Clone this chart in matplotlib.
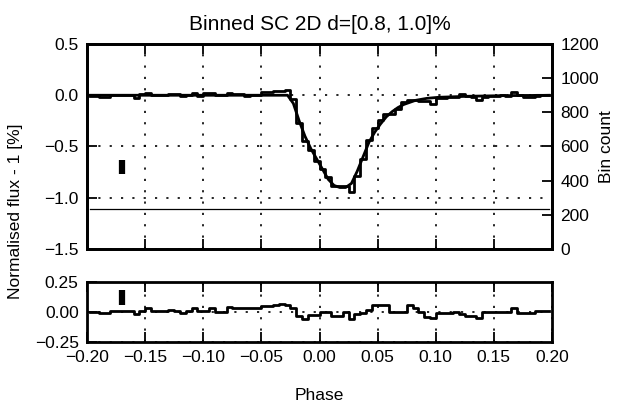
import numpy as np
import matplotlib
matplotlib.use('Agg')
import matplotlib.pyplot as plt

plt.rcParams['font.family'] = ['Liberation Sans', 'DejaVu Sans']
plt.rcParams['font.size'] = 12.5

# bin centres, 0.005 wide
phase = np.arange(-0.1975, 0.2, 0.005)

flux = [-0.01, -0.01, -0.02, -0.02, 0.0, 0.0, 0.0, 0.0, -0.03, 0.01,
        0.02, 0.0, 0.0, 0.0, 0.01, 0.01, -0.01, 0.0, 0.02, -0.01,
        0.025, 0.025, 0.0, 0.0, 0.025, 0.01, 0.01, -0.01, 0.0, 0.0,
        0.03, 0.03, 0.04, 0.04, 0.05, -0.04, -0.27, -0.45, -0.53, -0.64,
        -0.72, -0.80, -0.89, -0.89, -0.89, -0.94, -0.79, -0.62, -0.44, -0.32,
        -0.24, -0.18, -0.18, -0.13, -0.07, -0.05, -0.05, -0.06, -0.06, -0.09,
        -0.03, -0.03, -0.02, -0.02, 0.01, -0.01, -0.02, -0.05, -0.02, -0.01,
        -0.01, 0.0, -0.01, 0.03, 0.0, -0.02, -0.02, -0.01, 0.0, 0.0]

model = [0.0] * 35 + [
    -0.08, -0.25, -0.40, -0.52, -0.62,
    -0.72, -0.82, -0.88, -0.90, -0.90, -0.86, -0.74, -0.60, -0.46, -0.36,
    -0.28, -0.21, -0.16, -0.12, -0.09, -0.07, -0.05, -0.04, -0.03, -0.025,
    -0.02, -0.018, -0.016, -0.014, -0.012, -0.01, -0.009, -0.008, -0.007, -0.006,
    -0.005, -0.004, -0.004, -0.003, -0.003, -0.002, -0.002, -0.001, -0.001, 0.0]

resid = [0.0, 0.0, -0.01, -0.01, 0.01, 0.01, 0.01, 0.01, -0.02, 0.01,
         0.03, 0.005, 0.005, 0.005, 0.02, 0.005, -0.005, 0.01, 0.03, 0.01,
         0.01, 0.03, 0.0, 0.0, 0.04, 0.03, 0.03, 0.03, 0.035, 0.035,
         0.05, 0.05, 0.06, 0.065, 0.06, 0.03, -0.03, -0.06, -0.025, -0.025,
         0.0, 0.0, -0.03, -0.03, 0.0, -0.06, -0.02, -0.01, 0.02, 0.06,
         0.06, 0.06, 0.0, 0.0, 0.0, 0.06, 0.03, 0.0, -0.04, -0.05,
         -0.01, -0.01, -0.01, 0.0, -0.015, -0.03, -0.03, -0.05, 0.0, 0.0,
         0.0, 0.0, 0.0, 0.035, -0.005, -0.005, -0.01, 0.01, 0.01, 0.01]

counts = [236, 236, 235, 236, 236, 237, 236, 234, 234, 235,
          236, 237, 236, 236, 235, 234, 233, 233, 234, 235,
          236, 236, 235, 235, 236, 236, 237, 237, 236, 236,
          236, 237, 237, 236, 236, 235, 235, 236, 236, 237,
          236, 235, 235, 234, 234, 233, 232, 232, 233, 234,
          234, 235, 235, 236, 236, 236, 235, 235, 235, 234,
          234, 235, 236, 236, 236, 235, 235, 235, 236, 236,
          236, 235, 235, 236, 236, 236, 235, 234, 232, 232]

# typical error bars (x, centre, half-height)
err_x = -0.17
err_top = (-0.70, 0.065)
err_res = (0.12, 0.0625)

xticks = [-0.20, -0.15, -0.10, -0.05, 0.00, 0.05, 0.10, 0.15, 0.20]
dots = (0, (1.3, 5.5))

fig = plt.figure(figsize=(6.32, 4.07), dpi=100)
ax = fig.add_axes([0.1377, 0.3882, 0.7357, 0.5037])
axr = ax.twinx()
axb = fig.add_axes([0.1377, 0.1597, 0.7357, 0.1474])

ax.step(phase, flux, where='mid', color='k', lw=2)
ax.plot(phase, model, color='k', lw=2)
ax.plot([err_x, err_x], [err_top[0] - err_top[1], err_top[0] + err_top[1]],
        color='k', lw=4.5, solid_capstyle='butt')
axr.step(phase, counts, where='mid', color='k', lw=0.9)

ax.set_xlim(-0.2, 0.2)
ax.set_ylim(-1.5, 0.5)
ax.set_yticks([-1.5, -1.0, -0.5, 0.0, 0.5])
ax.set_xticks(xticks)
ax.set_xticklabels([])
axr.set_ylim(0, 1200)
axr.set_yticks(range(0, 1201, 200))
axr.set_ylabel('Bin count', labelpad=0)

axb.step(phase, resid, where='mid', color='k', lw=2)
axb.plot([err_x, err_x], [err_res[0] - err_res[1], err_res[0] + err_res[1]],
         color='k', lw=4.5, solid_capstyle='butt')
axb.set_xlim(-0.2, 0.2)
axb.set_ylim(-0.25, 0.25)
axb.set_yticks([-0.25, 0.0, 0.25])
axb.set_yticklabels(['\u22120.25', '0.00', '0.25'])
axb.set_xticks(xticks)
axb.set_xticklabels([f'{t:.2f}'.replace('-', '\u2212') for t in xticks])
axb.set_xlabel('Phase', labelpad=16)

for a in (ax, axb):
    a.grid(True, color='k', linestyle=dots, lw=1.2)
    a.tick_params(direction='in', top=True, length=7, width=1.3, pad=6)
    a.tick_params(axis='y', right=False)
for a in (ax, axr, axb):
    for s in a.spines.values():
        s.set_linewidth(2)
axr.tick_params(direction='in', length=7, width=1.3, pad=6)

ax.set_title('Binned SC 2D d=[0.8, 1.0]%', pad=10)
fig.text(0.024, 0.48, 'Normalised flux - 1 [%]', rotation=90, va='center', ha='center')

fig.savefig('out.png', dpi=100)
